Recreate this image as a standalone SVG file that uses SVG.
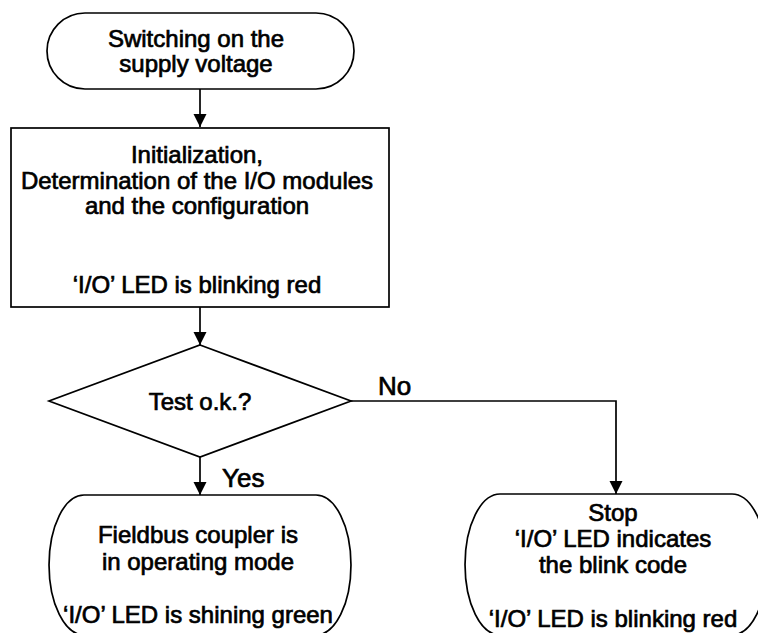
<svg xmlns="http://www.w3.org/2000/svg" width="758" height="633" viewBox="0 0 758 633">
  <style>
    .shape { fill: #ffffff; stroke: #000000; stroke-width: 1.7; }
    .conn { fill: none; stroke: #000000; stroke-width: 1.7; }
    text { font-family: "Liberation Sans", Arial, sans-serif; font-size: 24px; font-weight: normal; fill: #000000; stroke: #000000; stroke-width: 0.7; text-anchor: middle; }
    .lbl { font-size: 26px; text-anchor: start; }
  </style>
  <defs>
    <marker id="arrow" markerUnits="userSpaceOnUse" markerWidth="14" markerHeight="14" refX="13" refY="7" orient="auto">
      <path d="M0,0.5 L13,7 L0,13.5 Z" fill="#000000"/>
    </marker>
  </defs>
  <rect width="758" height="633" fill="#ffffff"/>

  <g id="connectors">
    <line class="conn" x1="200" y1="89" x2="200" y2="127" marker-end="url(#arrow)"/>
    <line class="conn" x1="200" y1="307" x2="200" y2="345" marker-end="url(#arrow)"/>
    <line class="conn" x1="200" y1="457" x2="200" y2="495" marker-end="url(#arrow)"/>
    <polyline class="conn" points="351,401 616,401 616,494" marker-end="url(#arrow)"/>
    <text class="lbl" x="378" y="395">No</text>
    <text class="lbl" x="222" y="487">Yes</text>
  </g>

  <g id="start">
    <path class="shape" d="M85,13 H316 A38,38 0 0 1 316,89 H85 A38,38 0 0 1 85,13 Z"/>
    <text x="196" y="47">Switching on the</text>
    <text x="196" y="72">supply voltage</text>
  </g>

  <g id="init">
    <rect class="shape" x="11" y="128" width="378" height="179"/>
    <text x="197" y="163">Initialization,</text>
    <text x="197" y="189">Determination of the I/O modules</text>
    <text x="197" y="214">and the configuration</text>
    <text x="197" y="293">‘I/O’ LED is blinking red</text>
  </g>

  <g id="test">
    <polygon class="shape" points="200,345 351,401 200,457 49,401"/>
    <text x="200" y="410">Test o.k.?</text>
  </g>

  <g id="operating">
    <path class="shape" d="M84,495 H316 A35,70 0 0 1 316,635 H84 A35,70 0 0 1 84,495 Z"/>
    <text x="198" y="543">Fieldbus coupler is</text>
    <text x="198" y="570">in operating mode</text>
    <text x="198" y="623">‘I/O’ LED is shining green</text>
  </g>

  <g id="stop">
    <path class="shape" d="M500,494 H732 A35,70.5 0 0 1 732,635 H500 A35,70.5 0 0 1 500,494 Z"/>
    <text x="613" y="521">Stop</text>
    <text x="613" y="547">‘I/O’ LED indicates</text>
    <text x="613" y="573">the blink code</text>
    <text x="613" y="627">‘I/O’ LED is blinking red</text>
  </g>
</svg>
